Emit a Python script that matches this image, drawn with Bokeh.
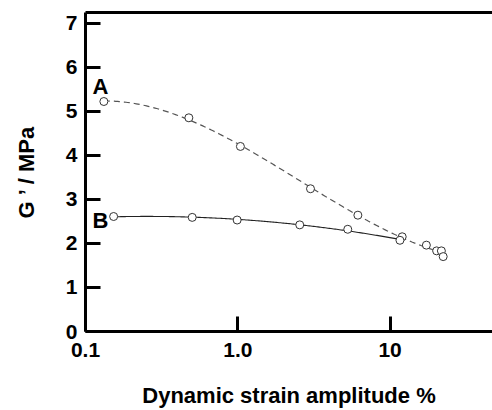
import numpy as np
from bokeh.plotting import figure
from bokeh.models import FixedTicker, LogAxis, Label, Range1d
from bokeh.embed import file_html
from bokeh.resources import INLINE

# Data
a_strain = [0.132, 0.477, 1.04, 3.0, 6.14, 12.0, 17.3, 20.2, 21.7, 22.3]
a_modulus = [5.22, 4.85, 4.20, 3.24, 2.64, 2.15, 1.96, 1.83, 1.83, 1.70]
b_strain = [0.153, 0.502, 0.99, 2.55, 5.27, 11.6]
b_modulus = [2.61, 2.59, 2.53, 2.42, 2.32, 2.07]

x_ticks = [0.1, 1, 10]
x_tick_labels = ["0.1", "1.0", "10"]
y_ticks = [0, 1, 2, 3, 4, 5, 6, 7]

FONT = "Liberation Sans"

p = figure(width=492, height=410, x_axis_type="log",
           x_range=Range1d(0.1, 47), y_range=Range1d(0, 7.24),
           output_backend="svg", toolbar_location=None,
           min_border_left=85, min_border_right=0,
           min_border_top=12, min_border_bottom=78)
p.outline_line_color = None
p.xgrid.visible = False
p.ygrid.visible = False

def smooth(xs, ys, deg):
    lx = np.log10(xs)
    c = np.polyfit(lx, ys, deg)
    gx = np.linspace(lx.min(), lx.max(), 200)
    return 10 ** gx, np.polyval(c, gx)

ax, ay = smooth(np.array(a_strain), np.array(a_modulus), 3)
bx, by = smooth(np.array(b_strain), np.array(b_modulus), 2)

p.line(ax, ay, line_color="#555555", line_width=1.2, line_dash="6 4")
p.line(bx, by, line_color="#222222", line_width=1.1)
p.scatter(a_strain, a_modulus, size=8, fill_color="white",
          line_color="#333333", line_width=1)
p.scatter(b_strain, b_modulus, size=8, fill_color="white",
          line_color="#333333", line_width=1)

for axis in (p.xaxis[0], p.yaxis[0]):
    axis.axis_line_width = 3
    axis.major_tick_line_width = 3
    axis.major_tick_in = 15
    axis.major_tick_out = 0
    axis.minor_tick_line_color = None
    axis.major_label_text_font = FONT
    axis.major_label_text_font_style = "bold"
    axis.major_label_text_font_size = "21px"
    axis.major_label_text_color = "black"
    axis.axis_label_text_font = FONT
    axis.axis_label_text_font_style = "bold"
    axis.axis_label_text_font_size = "22px"
    axis.axis_label_text_color = "black"

p.xaxis[0].ticker = FixedTicker(ticks=x_ticks)
p.xaxis[0].major_label_overrides = {t: l for t, l in zip(x_ticks, x_tick_labels)}
p.xaxis[0].major_label_standoff = 11
p.xaxis[0].axis_label = "Dynamic strain amplitude %"
p.xaxis[0].axis_label_standoff = 23

p.yaxis[0].ticker = FixedTicker(ticks=y_ticks)
p.yaxis[0].major_label_standoff = 8
p.yaxis[0].axis_label = "G ’ / MPa"
p.yaxis[0].axis_label_standoff = 24

top = LogAxis(ticker=FixedTicker(ticks=[]), axis_line_width=3,
              major_tick_line_color=None, minor_tick_line_color=None,
              major_label_text_font_size="0px", major_label_standoff=0,
              major_tick_out=0, major_tick_in=0)
p.add_layout(top, "above")

for txt, lx, ly in (("A", 0.111, 5.27), ("B", 0.111, 2.24)):
    p.add_layout(Label(x=lx, y=ly, text=txt, text_font=FONT,
                       text_font_style="bold", text_font_size="22px",
                       text_color="black", text_baseline="bottom"))

open("out.html", "w").write(file_html(p, INLINE))
